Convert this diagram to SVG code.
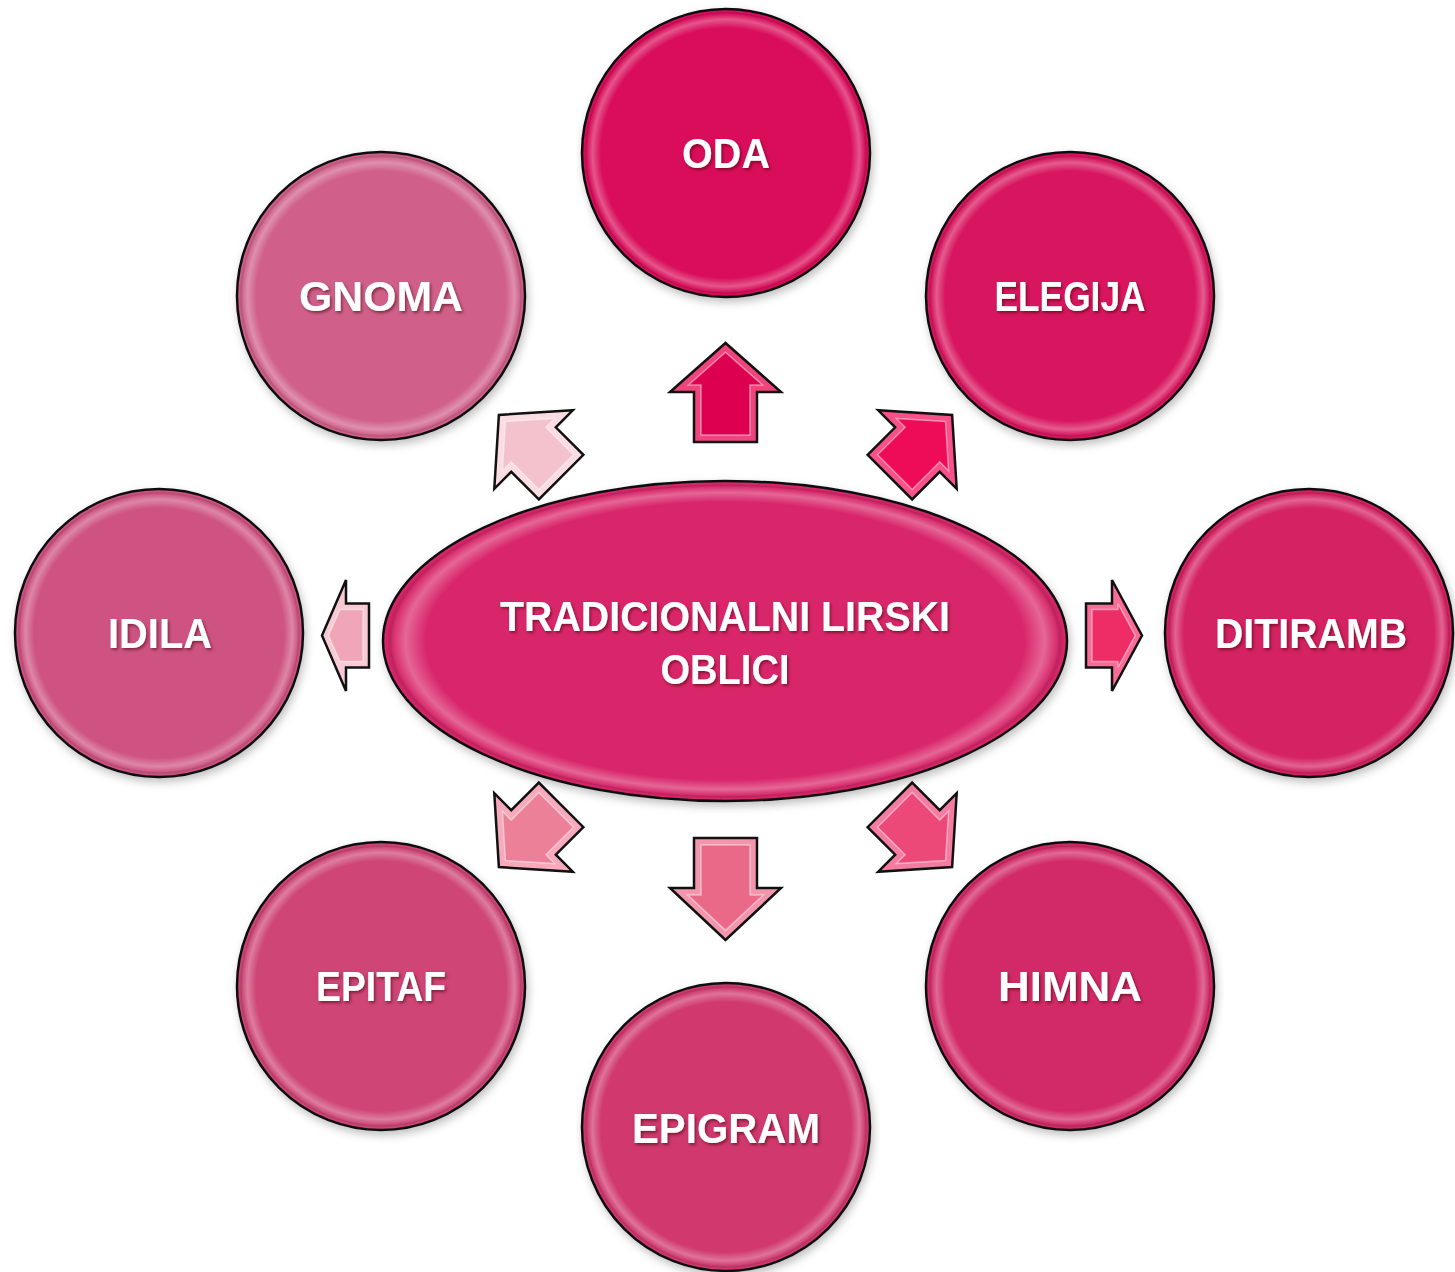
<svg xmlns="http://www.w3.org/2000/svg" width="1455" height="1272" viewBox="0 0 1455 1272">
<defs>
<filter id="shadow" x="-20%" y="-20%" width="140%" height="140%">
<feDropShadow dx="2" dy="4" stdDeviation="4" flood-color="#000" flood-opacity="0.25"/>
</filter>
<filter id="tshadow" x="-10%" y="-30%" width="120%" height="160%">
<feDropShadow dx="1.5" dy="2" stdDeviation="1.5" flood-color="#400" flood-opacity="0.55"/>
</filter>
<radialGradient id="rim" cx="0.5" cy="0.5" r="0.5">
<stop offset="0" stop-color="#fff" stop-opacity="0"/>
<stop offset="0.88" stop-color="#fff" stop-opacity="0"/>
<stop offset="0.94" stop-color="#fff" stop-opacity="0.3"/>
<stop offset="0.97" stop-color="#fff" stop-opacity="0.08"/>
<stop offset="0.985" stop-color="#000" stop-opacity="0.12"/>
<stop offset="1" stop-color="#000" stop-opacity="0"/>
</radialGradient>
</defs>
<style>
.node{stroke:#111;stroke-width:2.5}
.lbl{font-family:"Liberation Sans",Arial,sans-serif;font-weight:bold;font-size:42px;fill:#fff;text-anchor:middle;filter:url(#tshadow)}
.rim{fill:url(#rim);stroke:none}
.arr{stroke:#111;stroke-width:2.5;stroke-linejoin:miter}
.arin{stroke:#fff;stroke-opacity:0.45;stroke-width:1.5}
</style>
<rect width="1455" height="1272" fill="#fff"/>

<g id="connectors">
<g id="arrow-oda" transform="translate(725.5,392.5) rotate(-90)">
<polygon class="arr" fill="#F0447C" points="-49.5,-31.5 0.5,-31.5 0.5,-55.5 49.5,0 0.5,55.5 0.5,31.5 -49.5,31.5"/>
<polygon class="arin" fill="#DE0050" points="-42.5,-24.5 7.5,-24.5 7.5,-37 40.2,0 7.5,37 7.5,24.5 -42.5,24.5"/>
</g>
<g id="arrow-elegija" transform="translate(921,446) rotate(-45)">
<polygon class="arr" fill="#F85088" points="-44,-31.5 -5,-31.5 -5,-55.5 44,0 -5,55.5 -5,31.5 -44,31.5"/>
<polygon class="arin" fill="#EE0C58" points="-37,-24.5 2,-24.5 2,-37 34.7,0 2,37 2,24.5 -37,24.5"/>
</g>
<g id="arrow-ditiramb" transform="translate(1114,635.5)">
<polygon class="arr" fill="#F86C96" points="-28,-32 -2,-32 -2,-55.5 28,0 -2,55.5 -2,32 -28,32"/>
<polygon class="arin" fill="#EE2C66" points="-22,-26 4,-26 4,-31.8 21.2,0 4,31.8 4,26 -22,26"/>
</g>
<g id="arrow-himna" transform="translate(921,836) rotate(45)">
<polygon class="arr" fill="#F47CA0" points="-44,-31.5 -5,-31.5 -5,-55.5 44,0 -5,55.5 -5,31.5 -44,31.5"/>
<polygon class="arin" fill="#EC4878" points="-37,-24.5 2,-24.5 2,-37 34.7,0 2,37 2,24.5 -37,24.5"/>
</g>
<g id="arrow-epigram" transform="translate(725.5,889) rotate(90)">
<polygon class="arr" fill="#F296AE" points="-51,-31.5 -1,-31.5 -1,-55.5 51,0 -1,55.5 -1,31.5 -51,31.5"/>
<polygon class="arin" fill="#EA6888" points="-44,-24.5 6,-24.5 6,-37.8 41.4,0 6,37.8 6,24.5 -44,24.5"/>
</g>
<g id="arrow-epitaf" transform="translate(530,836) rotate(135)">
<polygon class="arr" fill="#F6AABC" points="-44,-31.5 -5,-31.5 -5,-55.5 44,0 -5,55.5 -5,31.5 -44,31.5"/>
<polygon class="arin" fill="#EC8098" points="-37,-24.5 2,-24.5 2,-37 34.7,0 2,37 2,24.5 -37,24.5"/>
</g>
<g id="arrow-idila" transform="translate(345.5,635.5) rotate(180)">
<polygon class="arr" fill="#F8CAD4" points="-23.5,-32 -0.5,-32 -0.5,-55.5 23.5,0 -0.5,55.5 -0.5,32 -23.5,32"/>
<polygon class="arin" fill="#F0A6B8" points="-17.5,-26 5.5,-26 17,0 5.5,26 -17.5,26"/>
</g>
<g id="arrow-gnoma" transform="translate(530,446) rotate(-135)">
<polygon class="arr" fill="#FADCE2" points="-44,-31.5 -5,-31.5 -5,-55.5 44,0 -5,55.5 -5,31.5 -44,31.5"/>
<polygon class="arin" fill="#F4C2CC" points="-37,-24.5 2,-24.5 2,-37 34.7,0 2,37 2,24.5 -37,24.5"/>
</g>
</g>

<g id="center">
<ellipse class="node" cx="725" cy="641" rx="342" ry="160" fill="#D9266A" filter="url(#shadow)"/>
<ellipse class="rim" cx="725" cy="641" rx="340" ry="158"/>
<text class="lbl" x="725" y="631" textLength="450" lengthAdjust="spacingAndGlyphs">TRADICIONALNI LIRSKI</text>
<text class="lbl" x="725" y="684" textLength="129" lengthAdjust="spacingAndGlyphs">OBLICI</text>
</g>

<g id="oda">
<circle class="node" cx="726" cy="153" r="144" fill="#D9105A" filter="url(#shadow)"/>
<circle class="rim" cx="726" cy="153" r="142"/>
<text class="lbl" x="726" y="168" textLength="88" lengthAdjust="spacingAndGlyphs">ODA</text>
</g>
<g id="elegija">
<circle class="node" cx="1070" cy="296" r="144" fill="#D8145E" filter="url(#shadow)"/>
<circle class="rim" cx="1070" cy="296" r="142"/>
<text class="lbl" x="1070" y="311" textLength="151" lengthAdjust="spacingAndGlyphs">ELEGIJA</text>
</g>
<g id="ditiramb">
<circle class="node" cx="1309" cy="633" r="144" fill="#D42062" filter="url(#shadow)"/>
<circle class="rim" cx="1309" cy="633" r="142"/>
<text class="lbl" x="1311" y="648" textLength="192" lengthAdjust="spacingAndGlyphs">DITIRAMB</text>
</g>
<g id="himna">
<circle class="node" cx="1070" cy="986" r="144" fill="#D22A68" filter="url(#shadow)"/>
<circle class="rim" cx="1070" cy="986" r="142"/>
<text class="lbl" x="1070" y="1001" textLength="144" lengthAdjust="spacingAndGlyphs">HIMNA</text>
</g>
<g id="epigram">
<circle class="node" cx="726" cy="1127" r="144" fill="#D0386E" filter="url(#shadow)"/>
<circle class="rim" cx="726" cy="1127" r="142"/>
<text class="lbl" x="726" y="1143" textLength="188" lengthAdjust="spacingAndGlyphs">EPIGRAM</text>
</g>
<g id="epitaf">
<circle class="node" cx="381" cy="986" r="144" fill="#CE4476" filter="url(#shadow)"/>
<circle class="rim" cx="381" cy="986" r="142"/>
<text class="lbl" x="381" y="1001" textLength="130" lengthAdjust="spacingAndGlyphs">EPITAF</text>
</g>
<g id="idila">
<circle class="node" cx="159" cy="633" r="144" fill="#CE5282" filter="url(#shadow)"/>
<circle class="rim" cx="159" cy="633" r="142"/>
<text class="lbl" x="160" y="648" textLength="104" lengthAdjust="spacingAndGlyphs">IDILA</text>
</g>
<g id="gnoma">
<circle class="node" cx="381" cy="296" r="144" fill="#D0608A" filter="url(#shadow)"/>
<circle class="rim" cx="381" cy="296" r="142"/>
<text class="lbl" x="381" y="311" textLength="164" lengthAdjust="spacingAndGlyphs">GNOMA</text>
</g>
</svg>
